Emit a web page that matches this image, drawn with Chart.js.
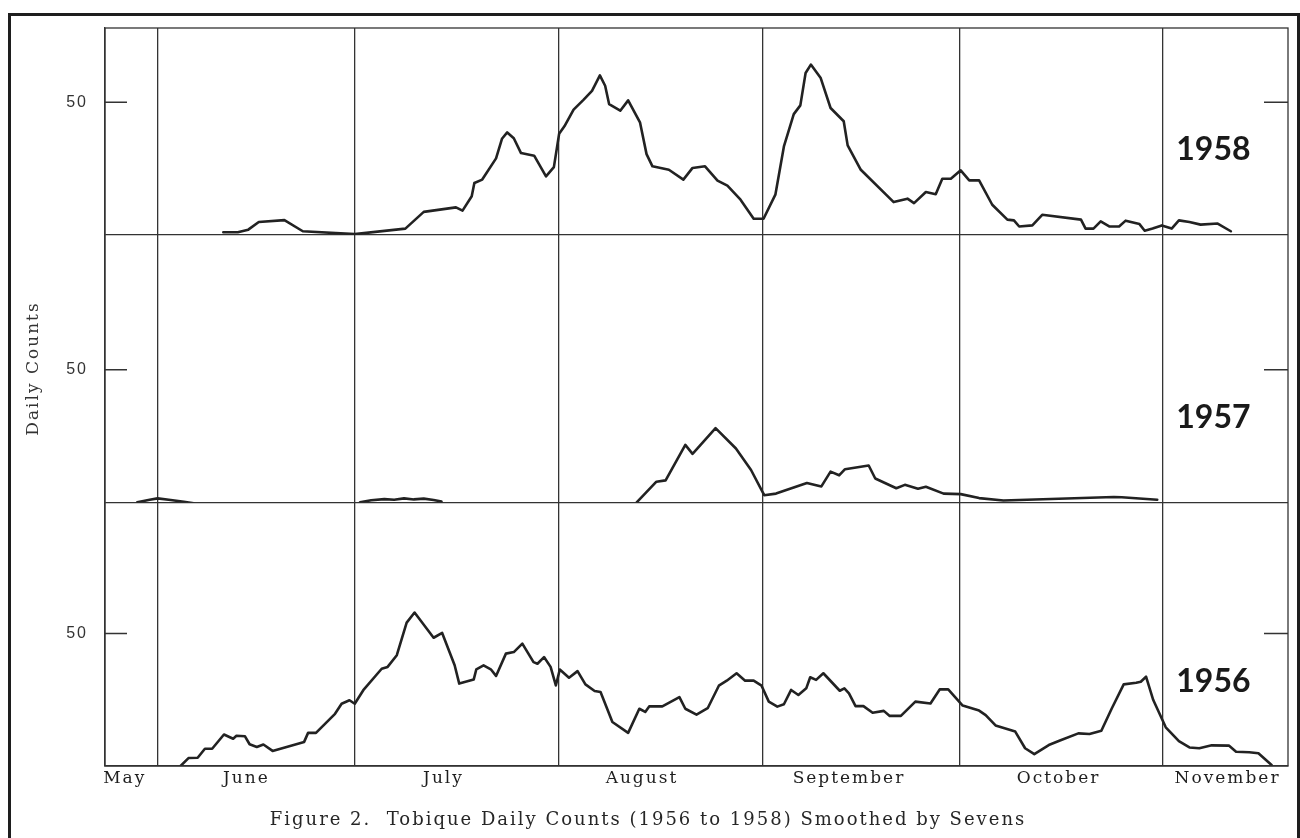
<!DOCTYPE html>
<html><head><meta charset="utf-8">
<script src="https://cdn.jsdelivr.net/npm/chart.js@4.4.1/dist/chart.umd.min.js"></script>
<style>
html,body{margin:0;padding:0;background:#fff;}
#wrap{position:relative;width:1300px;height:838px;overflow:hidden;background:#fff;}
#frame{position:absolute;left:8px;top:13px;width:1292px;height:900px;border:3px solid #1e1e1e;box-sizing:border-box;}
#c{position:absolute;left:0;top:0;}
</style></head><body>
<div id="wrap"><div id="frame"></div><canvas id="c" width="1300" height="838"></canvas></div>
<script>
// ---- Data (x = days counted from June 1, y = daily count smoothed by sevens) ----
const monthNames = ['May','June','July','August','September','October','November'];
const monthStartDays = [0, 30, 61, 92, 122, 153];
const yearNames = ['1958','1957','1956'];
const tickValues = [0, 50];

const days1958 = [10.0,12.2,13.8,15.4,19.3,22.1,30.0,37.7,40.5,45.4,46.4,47.8,48.2,49.4,51.5,52.4,53.2,54.2,55.3,57.3,59.1,60.3,61.1,61.9,63.3,64.8,66.1,67.3,68.1,68.7,70.4,71.6,73.4,74.4,75.3,77.8,80.0,81.4,83.3,85.2,86.7,88.7,90.7,92.2,94.0,95.3,96.8,97.8,98.6,99.4,100.9,102.4,104.4,105.0,107.0,112.0,114.1,115.1,116.9,118.4,119.4,120.7,122.2,123.5,125.0,127.0,129.3,130.3,131.1,133.1,134.6,140.5,141.2,142.4,143.5,144.8,146.3,147.3,149.4,150.2,151.4,152.8,154.3,155.4,157.0,158.7,161.3,163.3];
const counts1958 = [0.9,0.9,1.9,4.8,5.5,1.3,0.2,2.3,8.6,10.3,9.1,14.5,19.5,20.8,28.8,36.2,38.6,36.4,30.8,29.8,22.0,25.5,38.1,40.9,47.2,50.9,54.3,60.1,56.2,49.3,46.8,50.7,42.4,30.4,25.8,24.5,20.8,25.2,25.8,20.4,18.5,13.2,6.0,6.0,15.1,33.3,45.5,48.8,61.0,64.2,59.1,47.8,42.8,33.7,24.5,12.3,13.6,11.9,16.1,15.3,21.1,21.1,24.3,20.5,20.5,11.3,5.7,5.4,3.1,3.5,7.5,5.7,2.3,2.3,5.0,3.1,3.1,5.3,4.0,1.5,2.3,3.5,2.3,5.4,4.8,3.8,4.2,1.3];

const days1957a = [-3.1,-1.2,0,2.0,4.0,5.5];
const counts1957a = [0,1.0,1.5,0.9,0.2,-0.4];
const days1957b = [30.8,32.5,34.5,36.0,37.5,39.0,40.5,42.0,43.2];
const counts1957b = [0,0.8,1.2,1.0,1.5,1.1,1.4,0.9,0.3];
const days1957c = [72.9,75.9,77.3,80.3,81.4,84.9,88.0,90.3,92.3,94.1,98.8,101.0,102.4,103.7,104.6,108.2,109.2,112.4,113.7,115.7,116.9,119.6,122.2,125.0,128.7,145.5,146.7,152.1];
const counts1957c = [0,7.8,8.3,21.7,18.3,28.0,20.3,12.2,2.7,3.3,7.3,6.0,11.6,10.2,12.5,13.9,9.0,5.3,6.6,5.1,5.9,3.3,3.1,1.6,0.7,2.0,1.9,1.0];

const days1956 = [3.5,4.7,6.1,7.2,8.3,10.1,11.5,12.0,13.3,14.0,15.1,16.1,17.5,22.3,22.9,24.1,27.0,28.0,29.2,30.0,31.3,34.1,35.0,36.4,37.9,39.1,42.0,43.3,45.2,45.9,48.1,48.5,49.6,50.7,51.5,53.0,54.2,55.5,57.2,57.8,58.8,59.8,60.6,61.2,62.6,63.9,65.1,66.5,67.4,69.2,71.6,73.3,74.2,74.8,76.8,79.4,80.3,82.0,83.7,85.4,86.6,88.1,89.4,90.7,91.9,93.0,94.3,95.3,96.4,97.5,98.7,99.3,100.2,101.3,103.8,104.5,105.2,106.2,107.4,108.8,110.5,111.4,113.1,115.3,117.6,119.0,120.3,122.5,125.0,126.0,127.5,130.5,132.0,133.4,135.6,137.3,140.1,141.8,143.6,145.2,147.0,148.9,149.6,150.4,151.5,153.4,155.4,157.0,158.5,160.4,163.0,164.1,166.1,167.5,169.5];
const counts1956 = [0,3.0,3.1,6.5,6.5,11.9,10.3,11.4,11.2,8.2,7.2,8.1,5.7,9.1,12.5,12.5,19.7,23.5,24.8,23.5,28.6,36.7,37.4,41.8,54.1,57.9,48.4,50.2,38.0,31.1,32.6,36.5,38.0,36.5,34.0,42.4,43.0,46.2,39.2,38.6,41.1,37.4,30.4,36.4,33.3,35.8,30.8,28.3,27.9,16.6,12.5,21.6,20.4,22.5,22.5,26.0,21.6,19.4,21.8,30.3,32.2,35.0,32.2,32.2,30.3,24.3,22.4,23.3,28.7,26.8,29.3,33.5,32.5,35.0,28.4,29.3,27.4,22.6,22.6,20.1,20.8,18.9,18.9,24.3,23.6,28.9,28.9,22.8,20.9,19.2,15.3,13.0,6.7,4.5,7.9,9.6,12.3,12.1,13.3,21.8,30.8,31.4,31.8,33.7,24.9,14.6,9.4,7.0,6.7,7.8,7.7,5.4,5.2,4.8,0.4];

// ---- Layout / style configuration ----
const xMin = -8, xMax = 172;
const monthLabelDays = [-5, 13.5, 43.5, 73.7, 105.2, 137.1, 162.8];
const panelMax = {y58: 78, y57: 101, y56: 99.5};
const yearLabelDay = 155, yearLabelValue = 32;
const ink = '#222222';
const gridColor = '#333333';
const serif = 'DejaVu Serif';

function pts(d, c) { return d.map((x, i) => ({x: x, y: c[i]})); }
function ds(d, c, yId) {
  return {data: pts(d, c), xAxisID: 'x', yAxisID: yId, borderColor: ink, borderWidth: 2.6,
          pointRadius: 0, tension: 0, borderJoinStyle: 'round', borderCapStyle: 'round', fill: false};
}
function yAxis(id, weight, title) {
  return {
    type: 'linear', position: 'left', stack: 'panels', stackWeight: panelMax[id], weight: weight,
    min: 0, max: panelMax[id],
    afterBuildTicks: s => { s.ticks = tickValues.map(v => ({value: v})); },
    afterFit: s => { s.width = 97; },
    grid: {drawTicks: false, lineWidth: 1.3,
           color: c => (c.tick && c.tick.value === 0) ? gridColor : 'rgba(0,0,0,0)'},
    border: {display: true, color: gridColor, width: 1.3},
    ticks: {padding: 17, color: '#333', font: {family: 'Liberation Sans', size: 16},
            callback: v => v === 50 ? String(v) : ''},
    title: title ? {display: true, text: title, color: '#333',
                    font: {family: serif, size: 17, lineHeight: 1.2}, padding: {top: 15, bottom: 0}}
                 : {display: false}
  };
}

const spacingPlugin = {
  id: 'spacing',
  beforeDraw(chart) { chart.ctx.letterSpacing = '2px'; }
};
const panelPlugin = {
  id: 'panels',
  afterDraw(chart) {
    const {ctx, chartArea: a, scales} = chart;
    ctx.save();
    ctx.letterSpacing = '0px';
    ctx.strokeStyle = gridColor;
    ctx.lineWidth = 1.3;
    ctx.strokeRect(a.left, a.top, a.right - a.left, a.bottom - a.top);
    ['y58', 'y57', 'y56'].forEach((id, i) => {
      const s = scales[id];
      const py = s.getPixelForValue(50);
      ctx.lineWidth = 1.5;
      ctx.beginPath();
      ctx.moveTo(a.left, py); ctx.lineTo(a.left + 22, py);
      ctx.moveTo(a.right - 24, py); ctx.lineTo(a.right, py);
      ctx.stroke();
      ctx.fillStyle = '#1a1a1a';
      ctx.font = 'bold 32px Lato';
      ctx.textBaseline = 'middle';
      ctx.textAlign = 'left';
      ctx.fillText(yearNames[i], scales.x.getPixelForValue(yearLabelDay), s.getPixelForValue(yearLabelValue));
    });
    ctx.restore();
  }
};

new Chart(document.getElementById('c'), {
  type: 'line',
  data: {datasets: [
    ds(days1958, counts1958, 'y58'),
    ds(days1957a, counts1957a, 'y57'),
    ds(days1957b, counts1957b, 'y57'),
    ds(days1957c, counts1957c, 'y57'),
    ds(days1956, counts1956, 'y56')
  ]},
  options: {
    responsive: false, animation: false, devicePixelRatio: 1,
    layout: {padding: {left: 8, right: 12, top: 28, bottom: 0}},
    plugins: {
      legend: {display: false}, tooltip: {enabled: false},
      title: {display: true, position: 'bottom',
              text: 'Figure 2.  Tobique Daily Counts (1956 to 1958) Smoothed by Sevens',
              color: '#262626', font: {family: serif, size: 18, weight: 'normal', lineHeight: 1.2},
              padding: {top: 20, bottom: 6.4}}
    },
    scales: {
      x: {type: 'linear', position: 'bottom', min: xMin, max: xMax, weight: 0,
          afterBuildTicks: s => { s.ticks = monthStartDays.map(v => ({value: v})); },
          afterFit: s => { s.height = 0; },
          grid: {drawTicks: false, color: gridColor, lineWidth: 1.3},
          border: {display: true, color: gridColor, width: 1.3},
          ticks: {display: false}},
      xl: {type: 'linear', position: 'bottom', min: xMin, max: xMax, weight: 1,
           afterBuildTicks: s => { s.ticks = monthLabelDays.map(v => ({value: v})); },
           afterFit: s => { s.height = 24; },
           grid: {display: false, drawTicks: false},
           border: {display: false},
           ticks: {autoSkip: false, maxRotation: 0, minRotation: 0, padding: 2, color: '#1e1e1e',
                   font: {family: serif, size: 17}, callback: (v, i) => monthNames[i]}},
      y56: yAxis('y56', 1, null),
      y57: yAxis('y57', 2, 'Daily Counts'),
      y58: yAxis('y58', 3, null)
    }
  },
  plugins: [spacingPlugin, panelPlugin]
});
</script></body></html>
